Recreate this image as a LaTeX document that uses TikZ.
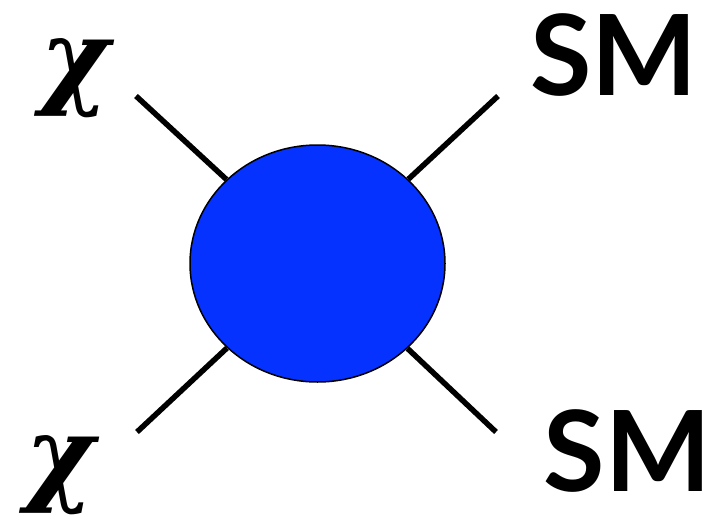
\documentclass[tikz,border=0pt]{standalone}
\usepackage{fontspec}
\usepackage{xcolor}
\usepackage{tikz}
\usetikzlibrary{shapes.geometric}
\newfontfamily\smfont{Lato}
\newfontfamily\chifont{DejaVu Serif}
\definecolor{blobblue}{RGB}{5,50,255}

\begin{document}
\begin{tikzpicture}[x=1pt, y=-1pt,
  blob/.style={ellipse, draw=black, line width=1.5pt, fill=blobblue,
               minimum width=255pt, minimum height=237pt, inner sep=0pt},
  leg/.style={line width=5.5pt, black},
  chilab/.style={inner sep=0pt, font=\fontsize{105}{105}\chifont\bfseries\itshape},
  smlab/.style={inner sep=0pt, font=\fontsize{112}{112}\smfont\bfseries}]
\useasboundingbox (0,0) rectangle (720,519);
\node[blob] (blob) at (317.5,263.5) {};
\coordinate (tl) at (136,96);
\coordinate (tr) at (498,96);
\coordinate (bl) at (137,432);
\coordinate (br) at (496,432);
\draw[leg] (blob) -- (tl);
\draw[leg] (blob) -- (tr);
\draw[leg] (blob) -- (bl);
\draw[leg] (blob) -- (br);
\node[chilab] (chitop) at (75.5,78) {χ};
\node[chilab] (chibot) at (60,475) {χ};
\node[smlab] (smtop) at (614,55) {SM};
\node[smlab] (smbot) at (627.5,451.5) {SM};
\end{tikzpicture}
\end{document}
